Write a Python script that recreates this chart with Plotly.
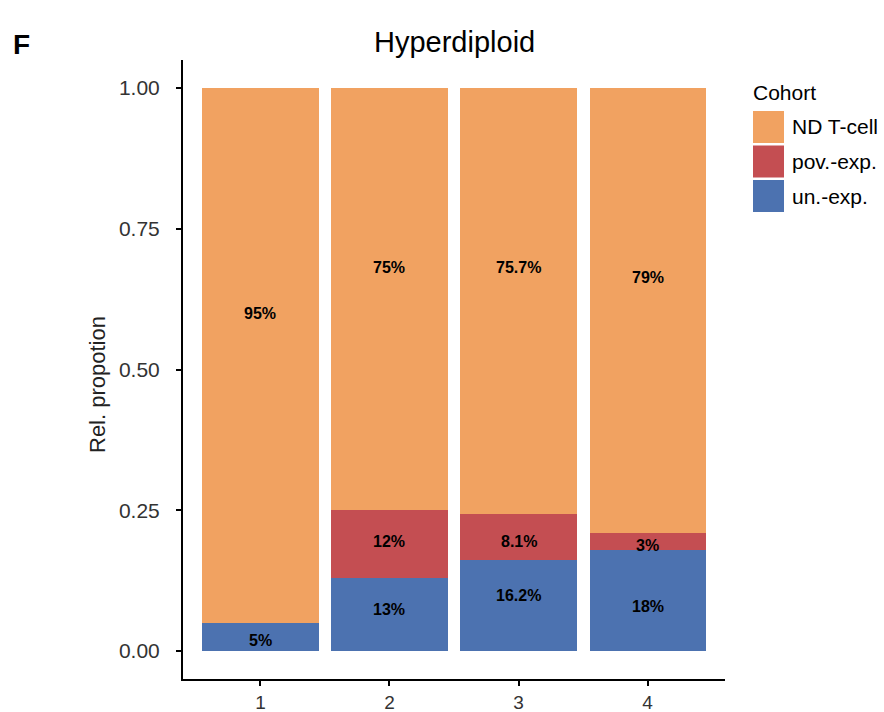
import plotly.graph_objects as go

# Data: relative proportion (%) per cohort for each group
groups = [1, 2, 3, 4]
cohorts = ["un.-exp.", "pov.-exp.", "ND T-cell"]          # stacking order, bottom to top
un_exp = [5, 13, 16.2, 18]
pov_exp = [0, 12, 8.1, 3]
nd_tcell = [95, 75, 75.7, 79]
series = [un_exp, pov_exp, nd_tcell]

# Heights (proportion units) at which the percentage labels sit
un_exp_label_y = [0.018, 0.073, 0.098, 0.078]
pov_exp_label_y = [None, 0.194, 0.194, 0.187]
nd_tcell_label_y = [0.599, 0.682, 0.682, 0.663]
label_heights = [un_exp_label_y, pov_exp_label_y, nd_tcell_label_y]

colors = {"ND T-cell": "#F1A261", "pov.-exp.": "#C44E52", "un.-exp.": "#4C72B0"}
legend_order = ["ND T-cell", "pov.-exp.", "un.-exp."]
y_ticks = [0, 0.25, 0.5, 0.75, 1.0]

FONT = "Liberation Sans, Arial, Helvetica, sans-serif"
W, H = 884, 712
ML, MR, MT, MB = 183, 159, 60, 33
PW, PH = W - ML - MR, H - MT - MB


def px_x(px):
    return (px - ML) / PW


def px_y(py):
    return (H - MB - py) / PH


fig = go.Figure()
for name, vals in zip(cohorts, series):
    fig.add_trace(go.Bar(
        x=groups, y=[v / 100 for v in vals], name=name, width=0.9,
        marker=dict(color=colors[name], line=dict(width=0)),
        showlegend=False, hoverinfo="skip",
    ))

# Percentage labels on each stacked segment
annotations = []
for vals, ys in zip(series, label_heights):
    for g, v, ly in zip(groups, vals, ys):
        if v > 0 and ly is not None:
            annotations.append(dict(
                x=g, y=ly, xref="x", yref="y", text=f"<b>{v:g}%</b>",
                showarrow=False, font=dict(family=FONT, size=16, color="black"),
            ))

# Title, panel letter, y-axis title
annotations.append(dict(x=0.5, y=px_y(42), xref="paper", yref="paper", text="Hyperdiploid",
                        showarrow=False, xanchor="center", yanchor="middle",
                        font=dict(family=FONT, size=29, color="black")))
annotations.append(dict(x=px_x(11), y=px_y(45), xref="paper", yref="paper", text="<b>F</b>",
                        showarrow=False, xanchor="left", yanchor="middle",
                        font=dict(family=FONT, size=28, color="black")))
annotations.append(dict(x=px_x(97), y=px_y(385), xref="paper", yref="paper", text="Rel. propotion",
                        showarrow=False, textangle=-90, xanchor="center", yanchor="middle",
                        font=dict(family=FONT, size=22, color="#222222")))

# Legend drawn with squares and labels
shapes = []
annotations.append(dict(x=px_x(751), y=px_y(92), xref="paper", yref="paper", text="Cohort",
                        showarrow=False, xanchor="left", yanchor="middle",
                        font=dict(family=FONT, size=21, color="black")))
key_top = 111
for k, name in enumerate(legend_order):
    top = key_top + k * 34.5
    shapes.append(dict(type="rect", xref="paper", yref="paper",
                       x0=px_x(753), x1=px_x(784), y0=px_y(top + 32), y1=px_y(top),
                       fillcolor=colors[name], line=dict(width=0)))
    annotations.append(dict(x=px_x(790), y=px_y(top + 16), xref="paper", yref="paper", text=name,
                            showarrow=False, xanchor="left", yanchor="middle",
                            font=dict(family=FONT, size=21, color="black")))

fig.update_layout(
    width=W, height=H, barmode="stack", bargap=0,
    margin=dict(l=ML, r=MR, t=MT, b=MB, autoexpand=False),
    paper_bgcolor="white", plot_bgcolor="white",
    annotations=annotations, shapes=shapes,
    xaxis=dict(range=[0.4, 4.6], tickvals=groups, ticktext=[str(g) for g in groups],
               automargin=False,
               showgrid=False, zeroline=False, showline=True, linecolor="black", linewidth=2,
               ticks="outside", ticklen=5, tickwidth=2, tickcolor="black",
               tickfont=dict(family=FONT, size=19, color="#333333"), ticklabelstandoff=0),
    yaxis=dict(range=[-0.05, 1.05], tickvals=y_ticks, tickformat=".2f",
               automargin=False,
               showgrid=False, zeroline=False, showline=True, linecolor="black", linewidth=2,
               ticks="outside", ticklen=5, tickwidth=2, tickcolor="black",
               tickfont=dict(family=FONT, size=21, color="#333333"), ticklabelstandoff=12),
)

fig.write_html("out.html")
